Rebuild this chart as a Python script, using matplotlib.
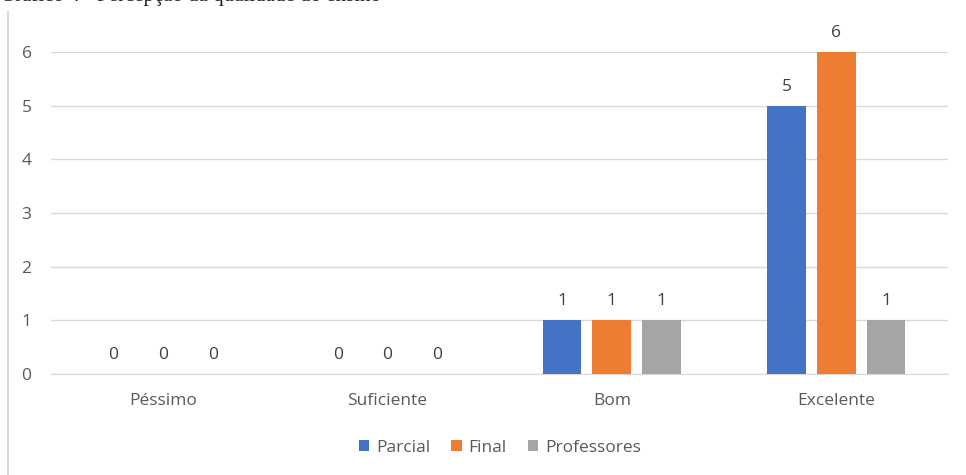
import numpy as np
import matplotlib.pyplot as plt
from matplotlib.lines import Line2D

categories = ["Péssimo", "Suficiente", "Bom", "Excelente"]
series_names = ["Parcial", "Final", "Professores"]
parcial = [0, 0, 1, 5]
final = [0, 0, 1, 6]
professores = [0, 0, 1, 1]
colors = ["#4472C4", "#ED7D31", "#A5A5A5"]

plt.rcParams['font.family'] = ['Open Sans', 'DejaVu Sans']

fig = plt.figure(figsize=(9.66, 4.75), dpi=100)
ax = fig.add_axes([0.0528, 0.2126, 0.929, 0.678])

x = np.arange(len(categories))
width = 0.173
step = 0.222
for i, (name, vals) in enumerate(zip(series_names, [parcial, final, professores])):
    pos = x + (i - 1) * step
    bars = ax.bar(pos, vals, width, color=colors[i], label=name, zorder=3)
    for b, v in zip(bars, vals):
        ax.annotate(str(v), (b.get_x() + b.get_width() / 2, v),
                    xytext=(0, 8), textcoords="offset points",
                    ha="center", va="bottom", fontsize=12.5, color="#404040")

ax.set_xlim(-0.5, len(categories) - 0.5)
ax.set_ylim(0, 6)
ax.set_yticks(range(7))
ax.set_xticks(x)
ax.set_xticklabels(categories)
ax.grid(axis="y", color="#D9D9D9", linewidth=1, zorder=0)
for s in ["top", "right", "left"]:
    ax.spines[s].set_visible(False)
ax.spines["bottom"].set_color("#D9D9D9")
ax.tick_params(axis="both", length=0, colors="#595959", labelsize=12.5)
ax.tick_params(axis="y", pad=14)
ax.tick_params(axis="x", pad=14)

ax.legend(loc="upper center", bbox_to_anchor=(0.5, -0.155), ncol=3, frameon=False,
          fontsize=12.5, handlelength=0.6, handleheight=0.6, handletextpad=0.4,
          columnspacing=1.2, labelcolor="#595959")

# chart frame edge on the left
fig.add_artist(Line2D([0.0085, 0.0085], [0.0, 0.975], transform=fig.transFigure,
                      color="#D9D9D9", linewidth=1.5))

# caption cut off at the top of the image
fig.text(0.0, 1.0 - 1 / 475, "Gráfico 4 - Percepção da qualidade do ensino", ha="left",
         va="baseline", fontsize=15, family="Liberation Serif", color="#222222")

fig.savefig("out.png", dpi=100)
